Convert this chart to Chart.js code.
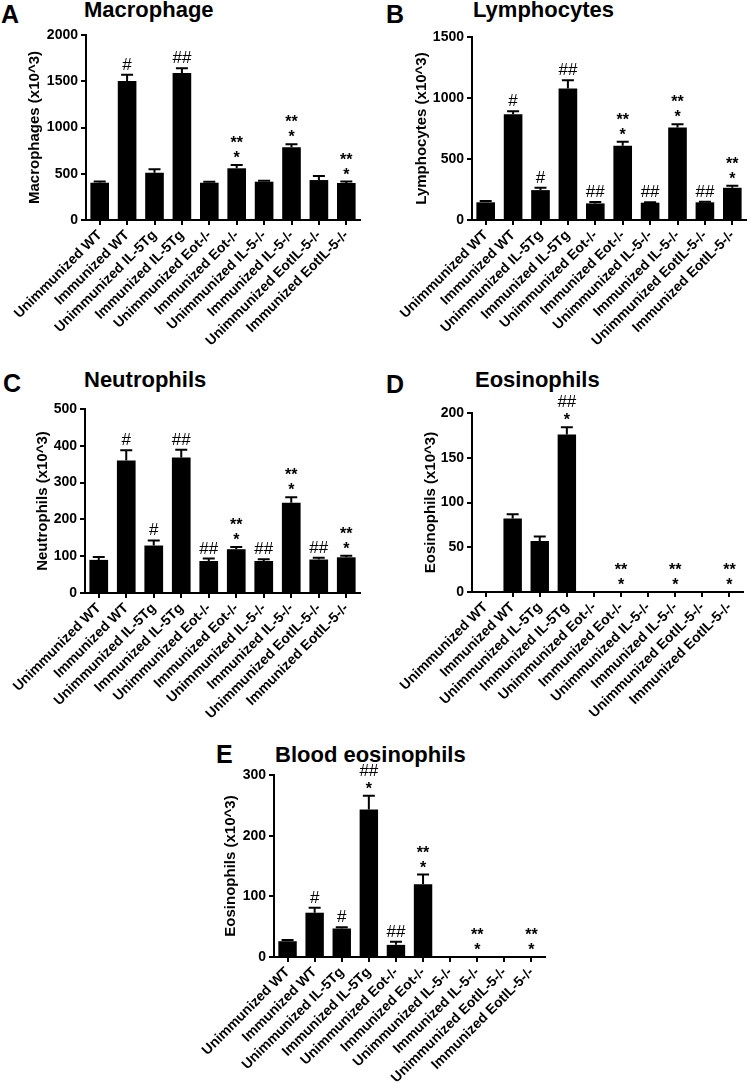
<!DOCTYPE html>
<html>
<head>
<meta charset="utf-8">
<script src="https://cdn.jsdelivr.net/npm/chart.js@4.4.1/dist/chart.umd.min.js"></script>
<style>
  body { margin: 0; background: #fff; }
  #page { position: relative; width: 750px; height: 1083px; overflow: hidden; font-family: "Liberation Sans", Arial, sans-serif; color: #000; }
  canvas { position: absolute; }
  .letter, .title { position: absolute; font-weight: bold; line-height: 1; white-space: nowrap; }
  .letter { font-size: 25px; }
  .title { font-size: 22px; }
</style>
</head>
<body>
<div id="page">
  <div class="letter" style="left:1px;top:2px">A</div>
  <div class="title" style="left:84px;top:-1px">Macrophage</div>
  <div class="letter" style="left:386px;top:2px">B</div>
  <div class="title" style="left:473px;top:-1px">Lymphocytes</div>
  <div class="letter" style="left:3px;top:371px">C</div>
  <div class="title" style="left:84px;top:369px">Neutrophils</div>
  <div class="letter" style="left:386px;top:372px">D</div>
  <div class="title" style="left:475px;top:369px">Eosinophils</div>
  <div class="letter" style="left:216px;top:742px">E</div>
  <div class="title" style="left:275px;top:744px">Blood eosinophils</div>

  <canvas id="chartA" width="375" height="365" style="left:0;top:0"></canvas>
  <canvas id="chartB" width="375" height="365" style="left:375px;top:0"></canvas>
  <canvas id="chartC" width="375" height="360" style="left:0;top:370px"></canvas>
  <canvas id="chartD" width="375" height="360" style="left:375px;top:370px"></canvas>
  <canvas id="chartE" width="400" height="343" style="left:180px;top:740px"></canvas>
</div>

<script>
// groups on the x axis (same for every panel)
const groups = [
  "Unimmunized WT", "Immunized WT", "Unimmunized IL-5Tg", "Immunized IL-5Tg",
  "Unimmunized Eot-/-", "Immunized Eot-/-", "Unimmunized IL-5-/-", "Immunized IL-5-/-",
  "Unimmunized EotIL-5-/-", "Immunized EotIL-5-/-"
];

// A - macrophages (x10^3)
const macrophages = [403, 1503, 511, 1589, 403, 559, 414, 786, 432, 400];
const macrophagesSem = [12, 68, 37, 51, 10, 36, 11, 32, 44, 15];
const macrophagesMarks = ["", "#", "", "##", "", "**\n*", "", "**\n*", "", "**\n*"];
const macrophagesTicks = [0, 500, 1000, 1500, 2000];

// B - lymphocytes
const lymphocytes = [145, 867, 245, 1078, 136, 608, 142, 758, 145, 264];
const lymphocytesSem = [10, 25, 19, 67, 11, 33, 3, 27, 5, 17];
const lymphocytesMarks = ["", "#", "#", "##", "##", "**\n*", "##", "**\n*", "##", "**\n*"];
const lymphocytesTicks = [0, 500, 1000, 1500];

// C - neutrophils
const neutrophils = [90, 360, 129, 368, 87, 119, 87, 245, 91, 97];
const neutrophilsSem = [8, 28, 14, 21, 7, 6, 5, 15, 5, 4];
const neutrophilsMarks = ["", "#", "#", "##", "##", "**\n*", "##", "**\n*", "##", "**\n*"];
const neutrophilsTicks = [0, 100, 200, 300, 400, 500];

// D - eosinophils (BAL)
const eosinophils = [0, 82, 57, 176, 0, 0, 0, 0, 0, 0];
const eosinophilsSem = [0, 5, 5, 8, 0, 0, 0, 0, 0, 0];
const eosinophilsMarks = ["", "", "", "##\n*", "", "**\n*", "", "**\n*", "", "**\n*"];
const eosinophilsTicks = [0, 50, 100, 150, 200];

// E - blood eosinophils
const bloodEos = [26, 73, 47, 243, 20, 120, 0, 0, 0, 0];
const bloodEosSem = [2, 8, 2, 23, 5, 16, 0, 0, 0, 0];
const bloodEosMarks = ["", "#", "#", "##\n*", "##", "**\n*", "", "**\n*", "", "**\n*"];
const bloodEosTicks = [0, 100, 200, 300];

const FONT = "'Liberation Sans', Arial, sans-serif";
Chart.defaults.font.family = FONT;
Chart.defaults.color = "#000";

// error bar (SEM, upwards only) + significance marks above each bar
const errorBarsAndMarks = {
  id: "errorBarsAndMarks",
  afterDatasetsDraw(chart, args, opts) {
    const { ctx } = chart;
    const y = chart.scales.y;
    const values = chart.data.datasets[0].data;
    const meta = chart.getDatasetMeta(0);
    ctx.save();
    meta.data.forEach((bar, i) => {
      const e = opts.sem[i] || 0;
      const top = y.getPixelForValue(values[i] + e);
      if (e > 0) {
        ctx.strokeStyle = "#000";
        ctx.lineWidth = 2;
        ctx.beginPath();
        ctx.moveTo(bar.x, bar.y);
        ctx.lineTo(bar.x, top);
        ctx.moveTo(bar.x - 6, top);
        ctx.lineTo(bar.x + 6, top);
        ctx.stroke();
      }
      const lines = (opts.marks[i] || "").split("\n").filter(Boolean).reverse();
      lines.forEach((t, k) => {
        const hash = t[0] === "#";
        const size = hash ? 17 : 16;
        ctx.font = (hash ? "" : "bold ") + size + "px " + FONT;
        ctx.fillStyle = "#000";
        ctx.textAlign = "center";
        ctx.textBaseline = "alphabetic";
        const cy = top - 11 - k * 15;
        ctx.fillText(t, bar.x, cy + (hash ? 0.36 : 0.57) * size);
      });
    });
    ctx.restore();
  }
};

function makePanel(id, values, sem, marks, ticks, yTitle, box) {
  const canvas = document.getElementById(id);
  return new Chart(canvas, {
    type: "bar",
    data: {
      labels: groups,
      datasets: [{ data: values, backgroundColor: "#000", borderWidth: 0, barPercentage: 0.68, categoryPercentage: 1 }]
    },
    options: {
      responsive: false,
      animation: false,
      layout: { padding: { top: box.top, right: canvas.width - box.right, left: 0, bottom: 0 } },
      plugins: {
        legend: { display: false },
        tooltip: { enabled: false },
        errorBarsAndMarks: { sem, marks }
      },
      scales: {
        x: {
          offset: true,
          grid: { offset: false, drawOnChartArea: false, drawTicks: true, tickLength: 5, color: "#000", lineWidth: 2 },
          border: { display: true, color: "#000", width: 2 },
          ticks: { autoSkip: false, maxRotation: 45, minRotation: 45, padding: 2, font: { size: 14, weight: "bold" } },
          afterFit: s => { s.height = canvas.height - box.bottom; }
        },
        y: {
          min: ticks[0],
          max: ticks[ticks.length - 1],
          afterBuildTicks: s => { s.ticks = ticks.map(v => ({ value: v })); },
          grid: { drawOnChartArea: false, drawTicks: true, tickLength: 5, color: "#000", lineWidth: 2 },
          border: { display: true, color: "#000", width: 2 },
          ticks: { padding: 3, font: { size: 14, weight: "bold" }, callback: v => String(v) },
          title: { display: true, text: yTitle, font: { size: 15, weight: "bold" }, padding: { top: box.titleX - 9, bottom: 0 } },
          afterFit: s => { s.width = box.left; }
        }
      }
    },
    plugins: [errorBarsAndMarks]
  });
}

makePanel("chartA", macrophages, macrophagesSem, macrophagesMarks, macrophagesTicks, "Macrophages (x10^3)",
  { left: 86, top: 35, right: 360, bottom: 220, titleX: 35 });
makePanel("chartB", lymphocytes, lymphocytesSem, lymphocytesMarks, lymphocytesTicks, "Lymphocytes (x10^3)",
  { left: 97, top: 37, right: 371, bottom: 220, titleX: 47 });
makePanel("chartC", neutrophils, neutrophilsSem, neutrophilsMarks, neutrophilsTicks, "Neutrophils (x10^3)",
  { left: 85, top: 39, right: 360, bottom: 223, titleX: 42.5 });
makePanel("chartD", eosinophils, eosinophilsSem, eosinophilsMarks, eosinophilsTicks, "Eosinophils (x10^3)",
  { left: 97, top: 43, right: 368, bottom: 222, titleX: 56 });
makePanel("chartE", bloodEos, bloodEosSem, bloodEosMarks, bloodEosTicks, "Eosinophils (x10^3)",
  { left: 94, top: 35, right: 365, bottom: 217, titleX: 51 });
</script>
</body>
</html>
